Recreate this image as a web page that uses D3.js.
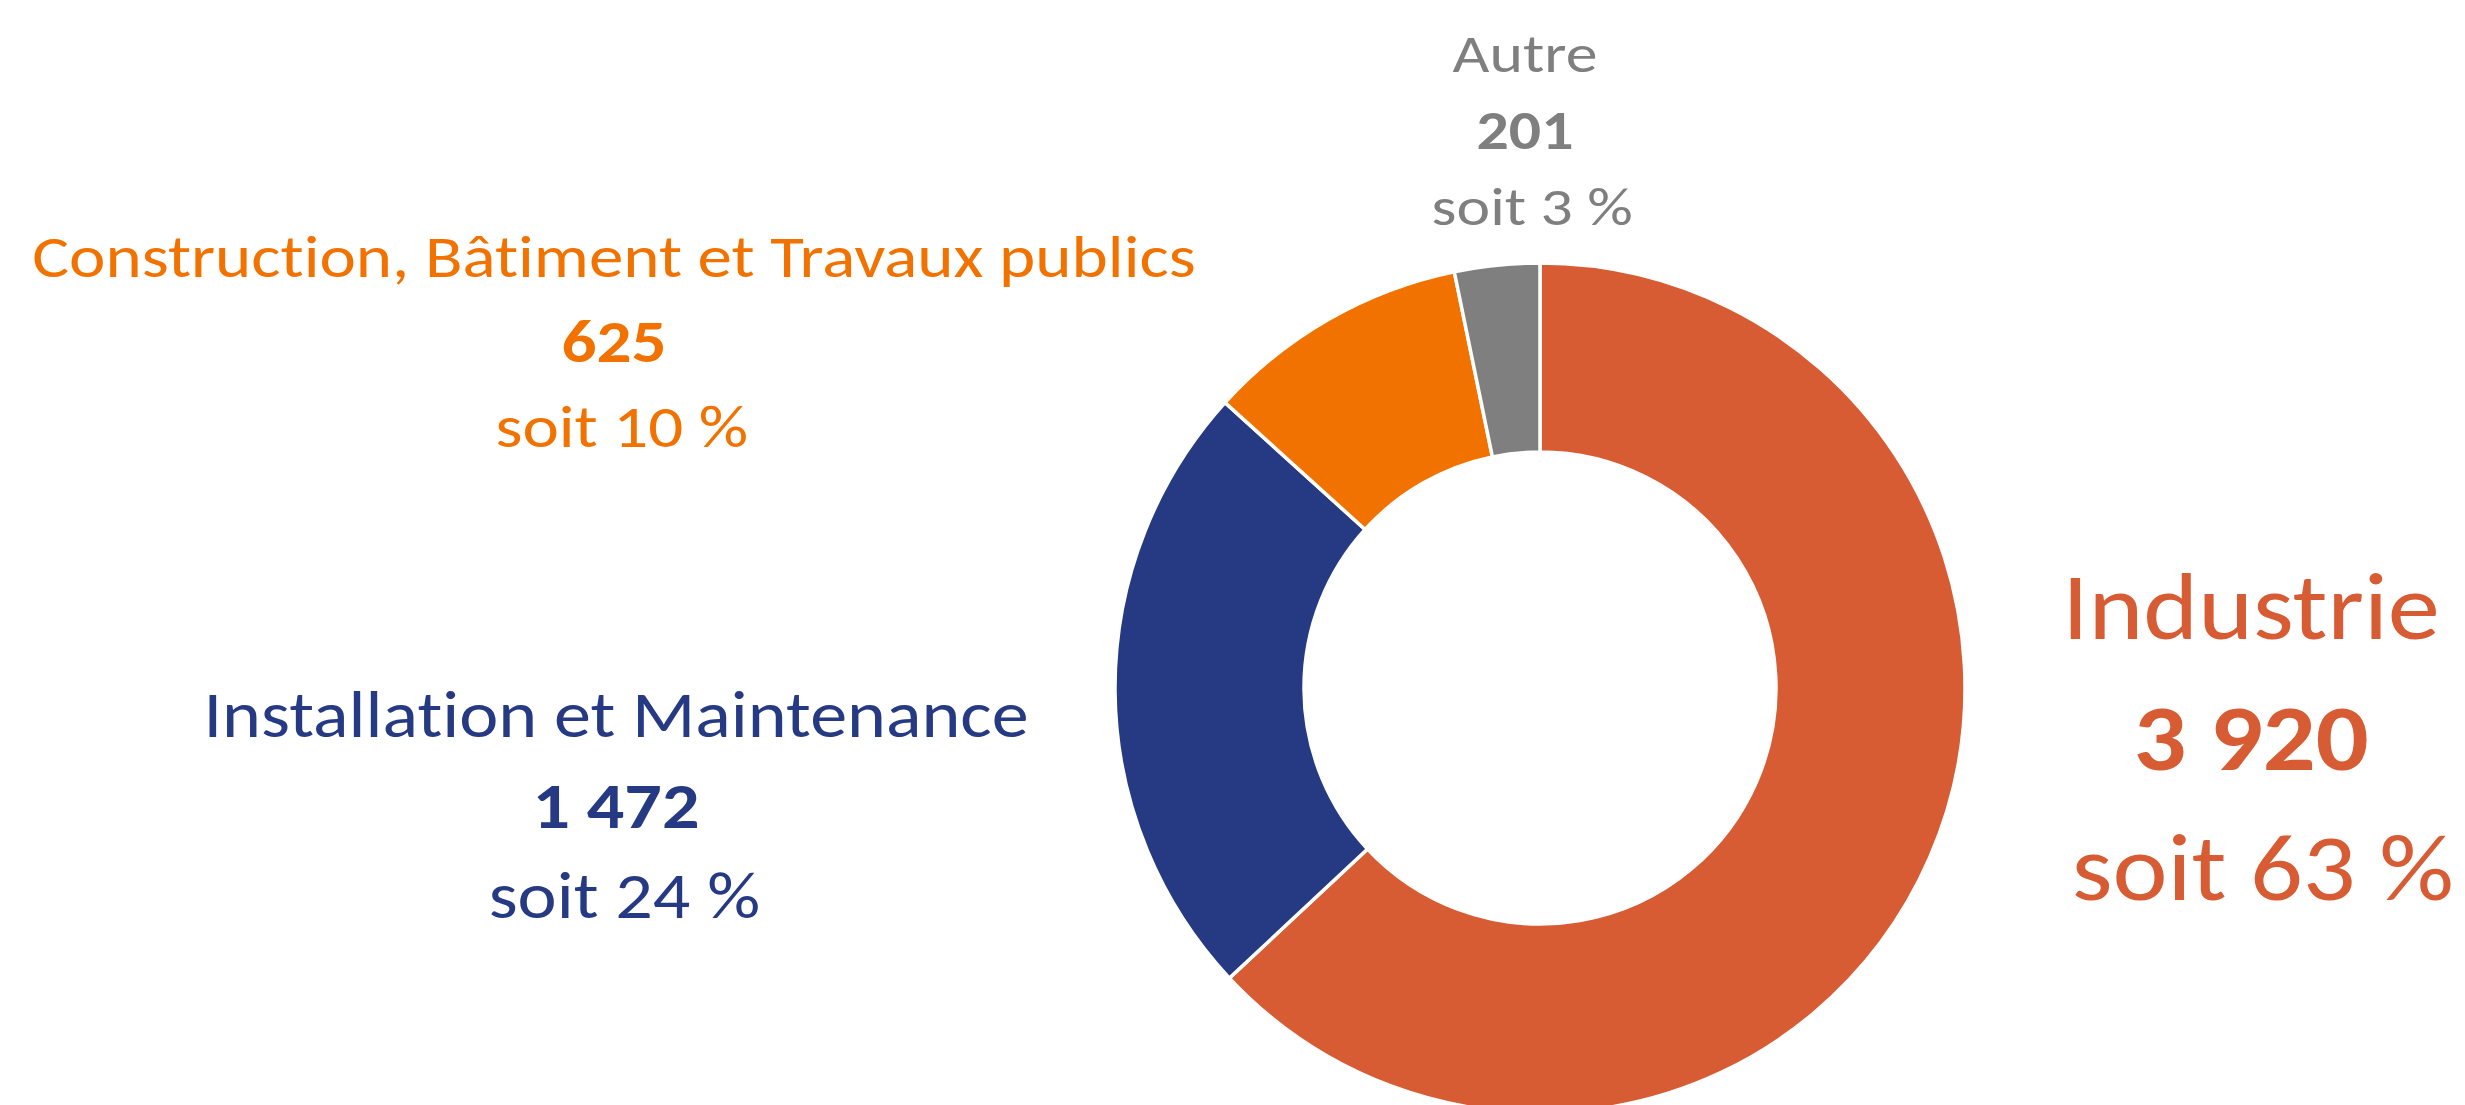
<!DOCTYPE html>
<html>
<head>
<meta charset="utf-8">
<script src="https://cdn.jsdelivr.net/npm/d3@7"></script>
<style>
  html, body { margin: 0; padding: 0; background: #ffffff; overflow: hidden; }
  svg { display: block; }
  text { font-family: Carlito, Calibri, Lato, "Open Sans", sans-serif; font-variant-ligatures: none; font-kerning: normal; }
</style>
</head>
<body>
<svg id="chart" width="2465" height="1105"></svg>
<script>
// Répartition par secteur
const categories = ["Industrie", "Installation et Maintenance", "Construction, Bâtiment et Travaux publics", "Autre"];
const values = [3920, 1472, 625, 201];
const colors = ["#D75B33", "#263A84", "#F27200", "#7F7F7F"];

// Label placement for each sector: centre x, first baseline, line gap, font size, horizontal stretch
const labelLayout = {
  "Industrie": { x: 2251, y: 639, gap: 130.5, size: 94, stretch: 1.11 },
  "Installation et Maintenance": { x: 616, y: 737, gap: 90.5, size: 65, stretch: 1.14 },
  "Construction, Bâtiment et Travaux publics": { x: 614, y: 277, gap: 85, size: 60, stretch: 1.15 },
  "Autre": { x: 1525, y: 72, gap: 76.5, size: 54, stretch: 1.18 }
};

const width = 2465, height = 1105;
const cx = 1540, cy = 688;
const outerR = 425, innerR = 236;

const svg = d3.select("#chart");

const data = categories.map((c, i) => ({ name: c, value: values[i], color: colors[i] }));
const total = d3.sum(values);

const fr = d3.formatLocale({ decimal: ",", thousands: "\u00a0", grouping: [3], currency: ["", " €"] });
const fmtValue = fr.format(",d");

const pie = d3.pie().value(d => d.value).sort(null).startAngle(0).endAngle(2 * Math.PI);
const arc = d3.arc().innerRadius(innerR).outerRadius(outerR);

svg.append("g")
  .attr("transform", `translate(${cx},${cy})`)
  .selectAll("path")
  .data(pie(data))
  .join("path")
  .attr("d", arc)
  .attr("fill", d => d.data.color)
  .attr("stroke", "#ffffff")
  .attr("stroke-width", 3.5)
  .attr("stroke-linejoin", "miter");

// Three-line labels: name, value (bold), share
const labels = svg.append("g").selectAll("g")
  .data(data)
  .join("g")
  .attr("fill", d => d.color)
  .attr("text-anchor", "middle");

function addLine(g, L, i, str, bold) {
  const t = g.append("text")
    .attr("x", L.x).attr("y", L.y + i * L.gap)
    .attr("font-size", L.size)
    .attr("font-weight", bold ? "bold" : "normal")
    .text(str);
  const len = t.node().getComputedTextLength();
  t.attr("textLength", len * L.stretch).attr("lengthAdjust", "spacingAndGlyphs");
}

labels.each(function (d) {
  const L = labelLayout[d.name];
  const g = d3.select(this);
  const pct = Math.round(d.value / total * 100);
  addLine(g, L, 0, d.name, false);
  addLine(g, L, 1, fmtValue(d.value), true);
  addLine(g, L, 2, `\u00a0soit ${pct}\u00a0%`, false);
});
</script>
</body>
</html>
